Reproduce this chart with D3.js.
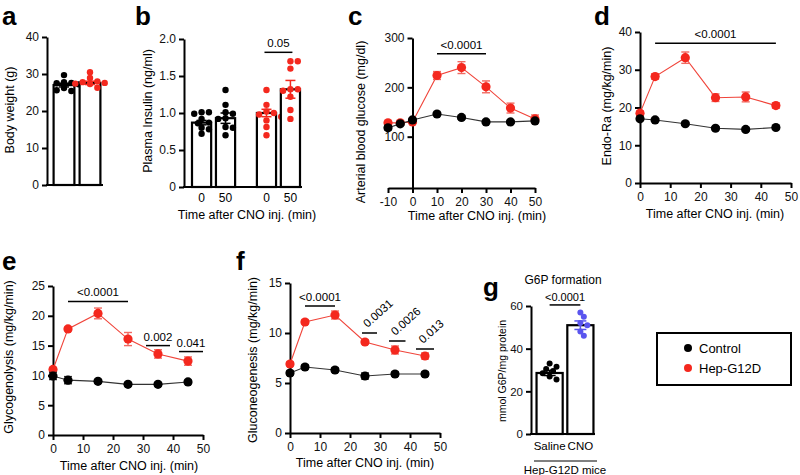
<!DOCTYPE html>
<html><head><meta charset="utf-8">
<script src="https://cdn.jsdelivr.net/npm/d3@7"></script>
<style>body{margin:0;background:#fff} svg text{font-family:"Liberation Sans",Arial,Helvetica,sans-serif}</style>
</head><body><svg id="fig" width="800" height="475"></svg>
<script>
// ---------------- DATA ----------------
// a: body weight (g)
const bwControl = [29.7, 27.8, 27.6, 27.5, 27.2, 26.2, 25.4, 25.6];
const bwG12D = [30.5, 28.9, 28.0, 27.8, 27.6, 27.4, 27.3, 26.3];
const bwMeans = [27.0, 27.6];
const bwErr = [0.5, 0.45];
const bwTicks = [0, 10, 20, 30, 40];

// b: plasma insulin (ng/ml)
const insulinLabels = ["0", "50", "0", "50"];
const insulinMeans = [0.87, 0.93, 1.0, 1.32];
const insulinErr = [0.03, 0.07, 0.05, 0.12];
const insulinPoints = [
  [1.01, 1.01, 0.99, 0.92, 0.87, 0.86, 0.8, 0.78, 0.72],
  [1.31, 1.11, 1.01, 0.99, 0.93, 0.92, 0.81, 0.8, 0.7],
  [1.31, 1.11, 1.02, 1.0, 0.98, 0.95, 0.9, 0.81, 0.7],
  [1.7, 1.7, 1.6, 1.32, 1.32, 1.3, 1.22, 1.04, 0.92]
];
const insulinTicks = [0, 0.5, 1.0, 1.5, 2.0];

// c: arterial blood glucose (mg/dl)
const glucoseTimes = [-10, -5, 0, 10, 20, 30, 40, 50];
const glucoseControl = [118, 126, 134, 146, 139, 130, 130, 132];
const glucoseControlErr = [4, 3, 3, 3, 3, 3, 3, 3];
const glucoseG12D = [128, 128, 130, 224, 240, 201, 158, 136];
const glucoseG12DErr = [3, 3, 3, 8, 12, 12, 10, 8];
const glucoseXTicks = [-10, 0, 10, 20, 30, 40, 50];
const glucoseYTicks = [100, 200, 300];

// d, e, f: time course
const rateTimes = [0, 5, 15, 25, 35, 45];
const endoRaControl = [17.0, 16.7, 15.7, 14.5, 14.2, 14.7];
const endoRaControlErr = [0.4, 0.4, 0.4, 0.4, 0.4, 0.4];
const endoRaG12D = [18.5, 28.2, 33.2, 22.6, 22.8, 20.5];
const endoRaG12DErr = [0.6, 0.7, 1.5, 1.0, 1.3, 0.7];
const endoRaTicks = [0, 10, 20, 30, 40];

const glycoControl = [9.9, 9.2, 9.0, 8.5, 8.5, 8.9];
const glycoControlErr = [0.6, 0.6, 0.3, 0.3, 0.3, 0.3];
const glycoG12D = [11.0, 17.8, 20.4, 16.1, 13.6, 12.4];
const glycoG12DErr = [0.3, 0.3, 0.9, 1.1, 0.7, 0.7];
const glycoTicks = [0, 5, 10, 15, 20, 25];

const gluconeoControl = [6.0, 6.6, 6.3, 5.7, 5.9, 5.9];
const gluconeoControlErr = [0.2, 0.2, 0.2, 0.3, 0.2, 0.2];
const gluconeoG12D = [6.9, 11.1, 11.8, 9.1, 8.3, 7.7];
const gluconeoG12DErr = [0.2, 0.2, 0.4, 0.2, 0.4, 0.3];
const gluconeoTicks = [0, 5, 10, 15];

const timeTicks = [0, 10, 20, 30, 40, 50];

// g: G6P formation
const g6pLabels = ["Saline", "CNO"];
const g6pMeans = [28.6, 51.0];
const g6pErr = [1.2, 2.0];
const g6pPoints = [
  [33, 31.5, 30.5, 29.5, 28.5, 27, 25.5],
  [57, 55, 52, 51, 48, 46]
];
const g6pTicks = [0, 20, 40, 60];

// significance annotations (data units)
const statsC = [{from: 10, to: 30, y: 268, label: "<0.0001"}];
const statsD = [{from: 5, to: 45, y: 37, label: "<0.0001"}];
const statsE = [{from: 5, to: 25, y: 22.4, label: "<0.0001"},
                {from: 31, to: 39, y: 15.0, label: "0.002"},
                {from: 42, to: 50, y: 14.0, label: "0.041"}];
const statsF = [{from: 5, to: 15, y: 12.7, label: "<0.0001"},
                {from: 24, to: 29, y: 10.0, label: "0.0031", rot: true},
                {from: 33, to: 38.5, y: 9.2, label: "0.0026", rot: true},
                {from: 42, to: 48, y: 8.4, label: "0.013", rot: true}];

const legendLabels = ["Control", "Hep-G12D"];

// ---------------- STYLE ----------------
const RED = "#f4281e", REDLINE = "#f0443a", REDERR = "#f26a62", BLACK = "#000", BLUE = "#5a55ee";
const svg = d3.select("#fig");
const FONT = "Liberation Sans, Arial, sans-serif";
const fmtNum = d => String(d); // plain hyphen for negatives

function styleAxis(g, fs) {
  g.attr("font-family", FONT).attr("font-size", fs || 12);
  g.select(".domain").attr("stroke", "#000").attr("stroke-width", 2);
  g.selectAll(".tick line").attr("stroke", "#000").attr("stroke-width", 2);
  g.selectAll(".tick text").attr("fill", "#111");
}
function letter(t, x, y) {
  svg.append("text").attr("x", x).attr("y", y).text(t)
    .attr("font-size", 26).attr("font-weight", "bold");
}
function yTitle(t, x, cy, fs) {
  svg.append("text").attr("transform", `translate(${x},${cy}) rotate(-90)`)
    .attr("text-anchor", "middle").attr("font-size", fs || 12.5).text(t);
}
function xTitle(t, cx, y, fs) {
  svg.append("text").attr("x", cx).attr("y", y).attr("text-anchor", "middle")
    .attr("font-size", fs || 12.5).text(t);
}
function swarm(vals, y, cx, r) {
  const placed = [];
  return vals.map(v => {
    const py = y(v);
    const cand = [0];
    for (let i = 1; i < 8; i++) { cand.push(i * r * 1.15, -i * r * 1.15); }
    let px = cx;
    for (const dx of cand) {
      const xx = cx + dx;
      if (placed.every(p => (p[0] - xx) ** 2 + (p[1] - py) ** 2 >= (2 * r * 0.9) ** 2)) { px = xx; break; }
    }
    placed.push([px, py]);
    return [px, py];
  });
}
function bracket(x, y, s) {
  const yy = y(s.y);
  svg.append("line").attr("x1", x(s.from)).attr("x2", x(s.to)).attr("y1", yy).attr("y2", yy)
    .attr("stroke", "#000").attr("stroke-width", 1.5);
  if (s.rot) {
    const cx = (x(s.from) + x(s.to)) / 2;
    svg.append("text").attr("transform", `translate(${cx - 2},${yy - 5}) rotate(-42)`)
      .attr("font-size", 11.5).text(s.label);
  } else {
    svg.append("text").attr("x", (x(s.from) + x(s.to)) / 2).attr("y", yy - 5)
      .attr("text-anchor", "middle").attr("font-size", 11.5).text(s.label);
  }
}
function errBar(g, cx, y, m, e, color, cap, w) {
  g.append("line").attr("x1", cx).attr("x2", cx).attr("y1", y(m - e)).attr("y2", y(m + e))
    .attr("stroke", color).attr("stroke-width", w || 1.5);
  [m - e, m + e].forEach(v => g.append("line").attr("x1", cx - cap).attr("x2", cx + cap)
    .attr("y1", y(v)).attr("y2", y(v)).attr("stroke", color).attr("stroke-width", w || 1.5));
}
function series(x, y, times, vals, errs, dot, lineC, errC) {
  const g = svg.append("g");
  g.append("path").datum(times.map((t, i) => [t, vals[i]]))
    .attr("d", d3.line().x(d => x(d[0])).y(d => y(d[1])))
    .attr("fill", "none").attr("stroke", lineC).attr("stroke-width", 1.1);
  times.forEach((t, i) => errBar(g, x(t), y, vals[i], errs[i], errC, 4, 1.4));
  g.selectAll("circle").data(times).join("circle")
    .attr("cx", t => x(t)).attr("cy", (t, i) => y(vals[i])).attr("r", 4.6).attr("fill", dot);
}
function linePanel(o) {
  const x = d3.scaleLinear().domain(o.xDom).range(o.xRange);
  const y = d3.scaleLinear().domain(o.yDom).range(o.yRange);
  const gx = svg.append("g").attr("transform", `translate(0,${o.yRange[0]})`)
    .call(d3.axisBottom(x).tickValues(o.xTicks).tickSize(5).tickSizeOuter(0).tickPadding(4).tickFormat(fmtNum));
  styleAxis(gx);
  const gy = svg.append("g").attr("transform", `translate(${x(o.yAxisAt)},0)`)
    .call(d3.axisLeft(y).tickValues(o.yTicks).tickSize(5).tickSizeOuter(0).tickPadding(3).tickFormat(fmtNum));
  styleAxis(gy);
  series(x, y, o.times, o.g12d, o.g12dErr, RED, REDLINE, REDERR);
  series(x, y, o.times, o.ctrl, o.ctrlErr, BLACK, "#333", "#333");
  o.stats.forEach(s => bracket(x, y, s));
  return {x, y};
}

// ---------------- PANEL a ----------------
(function () {
  const y = d3.scaleLinear().domain([0, 40]).range([185, 37]);
  const x = d3.scaleBand().domain(legendLabels).range([51, 103]).paddingInner(0.2).paddingOuter(0.1);
  const gy = svg.append("g").attr("transform", "translate(47,0)")
    .call(d3.axisLeft(y).tickValues(bwTicks).tickSize(5).tickSizeOuter(0).tickPadding(3));
  styleAxis(gy);
  svg.append("line").attr("x1", 46).attr("x2", 103).attr("y1", 185).attr("y2", 185).attr("stroke", "#000").attr("stroke-width", 2);
  const pts = [bwControl, bwG12D];
  legendLabels.forEach((k, i) => {
    svg.append("rect").attr("x", x(k)).attr("y", y(bwMeans[i])).attr("width", x.bandwidth())
      .attr("height", y(0) - y(bwMeans[i])).attr("fill", "#fff").attr("stroke", "#000").attr("stroke-width", 2.2);
    const c = i ? RED : BLACK;
    swarm(pts[i], y, x(k) + x.bandwidth() / 2, 3.2).forEach(p =>
      svg.append("circle").attr("cx", p[0]).attr("cy", p[1]).attr("r", 3.2).attr("fill", c));
    errBar(svg, x(k) + x.bandwidth() / 2, y, bwMeans[i], bwErr[i], c, 5, 1.5);
  });
  letter("a", 2, 25);
  yTitle("Body weight (g)", 14, 110);
})();

// ---------------- PANEL b ----------------
(function () {
  const y = d3.scaleLinear().domain([0, 2]).range([187, 39]);
  const x = d3.scaleBand().domain(d3.range(4)).range([192, 283]).paddingInner(0.2).paddingOuter(0);
  const groupGap = i => (i >= 2 ? 17 : 0);
  const gy = svg.append("g").attr("transform", "translate(184,0)")
    .call(d3.axisLeft(y).tickValues(insulinTicks).tickSize(5).tickSizeOuter(0).tickPadding(3)
      .tickFormat(d => d === 0 ? "0" : d3.format(".1f")(d)));
  styleAxis(gy);
  svg.append("line").attr("x1", 183).attr("x2", 302).attr("y1", 187).attr("y2", 187).attr("stroke", "#000").attr("stroke-width", 2);
  d3.range(4).forEach(i => {
    const bx = x(i) + groupGap(i);
    const cx = bx + x.bandwidth() / 2;
    svg.append("rect").attr("x", bx).attr("y", y(insulinMeans[i])).attr("width", x.bandwidth())
      .attr("height", y(0) - y(insulinMeans[i])).attr("fill", "#fff").attr("stroke", "#000").attr("stroke-width", 2.2);
    const c = i >= 2 ? RED : BLACK;
    swarm(insulinPoints[i], y, cx, 3.2).forEach(p =>
      svg.append("circle").attr("cx", p[0]).attr("cy", p[1]).attr("r", 3.2).attr("fill", c));
    errBar(svg, cx, y, insulinMeans[i], insulinErr[i], c, 5, 1.5);
    svg.append("text").attr("x", cx).attr("y", 202).attr("text-anchor", "middle").attr("font-size", 12).text(insulinLabels[i]);
  });
  const bx2 = x(2) + groupGap(2) + x.bandwidth() / 2, bx3 = x(3) + groupGap(3) + x.bandwidth() / 2;
  svg.append("line").attr("x1", bx2 - 2).attr("x2", bx3 + 2).attr("y1", y(1.82)).attr("y2", y(1.82)).attr("stroke", "#000").attr("stroke-width", 1.5);
  svg.append("text").attr("x", (bx2 + bx3) / 2).attr("y", y(1.82) - 5).attr("text-anchor", "middle").attr("font-size", 11.5).text("0.05");
  letter("b", 135, 25);
  yTitle("Plasma Insulin (ng/ml)", 152, 111);
  xTitle("Time after CNO inj. (min)", 247, 219);
})();

// ---------------- PANEL c ----------------
linePanel({xDom: [-10, 50], xRange: [388, 535], yDom: [-4, 300], yRange: [188, 38],
  xTicks: glucoseXTicks, yTicks: glucoseYTicks, yAxisAt: 0,
  times: glucoseTimes, ctrl: glucoseControl, ctrlErr: glucoseControlErr,
  g12d: glucoseG12D, g12dErr: glucoseG12DErr, stats: statsC});
letter("c", 348, 25);
yTitle("Arterial blood glucose (mg/dl)", 365, 122);
xTitle("Time after CNO inj. (min)", 477, 220);

// ---------------- PANEL d ----------------
linePanel({xDom: [0, 50], xRange: [640, 791], yDom: [0, 40], yRange: [183, 32],
  xTicks: timeTicks, yTicks: endoRaTicks, yAxisAt: 0,
  times: rateTimes, ctrl: endoRaControl, ctrlErr: endoRaControlErr,
  g12d: endoRaG12D, g12dErr: endoRaG12DErr, stats: statsD});
letter("d", 594, 25);
yTitle("Endo-Ra (mg/kg/min)", 611, 106);
xTitle("Time after CNO inj. (min)", 715, 218);

// ---------------- PANEL e ----------------
linePanel({xDom: [0, 50], xRange: [53, 203], yDom: [0, 25], yRange: [435, 286],
  xTicks: timeTicks, yTicks: glycoTicks, yAxisAt: 0,
  times: rateTimes, ctrl: glycoControl, ctrlErr: glycoControlErr,
  g12d: glycoG12D, g12dErr: glycoG12DErr, stats: statsE});
letter("e", 2, 270);
yTitle("Glycogenolysis (mg/kg/min)", 13, 357);
xTitle("Time after CNO inj. (min)", 129, 470);

// ---------------- PANEL f ----------------
linePanel({xDom: [0, 50], xRange: [290, 440], yDom: [0, 15], yRange: [433, 283],
  xTicks: timeTicks, yTicks: gluconeoTicks, yAxisAt: 0,
  times: rateTimes, ctrl: gluconeoControl, ctrlErr: gluconeoControlErr,
  g12d: gluconeoG12D, g12dErr: gluconeoG12DErr, stats: statsF});
letter("f", 236, 270);
yTitle("Gluconeogenesis (mg/kg/min)", 257, 360);
xTitle("Time after CNO inj. (min)", 365, 467);

// ---------------- PANEL g ----------------
(function () {
  const y = d3.scaleLinear().domain([0, 60]).range([434, 306]);
  const x = d3.scaleBand().domain(g6pLabels).range([535, 595]).paddingInner(0.15).paddingOuter(0.05);
  const gy = svg.append("g").attr("transform", "translate(531,0)")
    .call(d3.axisLeft(y).tickValues(g6pTicks).tickSize(5).tickSizeOuter(0).tickPadding(3));
  styleAxis(gy, 11.5);
  svg.append("line").attr("x1", 530).attr("x2", 595).attr("y1", 434).attr("y2", 434).attr("stroke", "#000").attr("stroke-width", 2);
  g6pLabels.forEach((k, i) => {
    const cx = x(k) + x.bandwidth() / 2;
    svg.append("rect").attr("x", x(k)).attr("y", y(g6pMeans[i])).attr("width", x.bandwidth())
      .attr("height", y(0) - y(g6pMeans[i])).attr("fill", "#fff").attr("stroke", "#000").attr("stroke-width", 2.2);
    const c = i ? BLUE : BLACK;
    swarm(g6pPoints[i], y, cx, 3).forEach(p =>
      svg.append("circle").attr("cx", p[0]).attr("cy", p[1]).attr("r", 3).attr("fill", c));
    errBar(svg, cx, y, g6pMeans[i], g6pErr[i], c, 6, 1.5);
    svg.append("text").attr("x", cx).attr("y", 450).attr("text-anchor", "middle").attr("font-size", 11.5).text(k);
  });
  const c0 = x("Saline") + x.bandwidth() / 2, c1 = x("CNO") + x.bandwidth() / 2;
  svg.append("line").attr("x1", c0).attr("x2", c1).attr("y1", y(60.5)).attr("y2", y(60.5)).attr("stroke", "#000").attr("stroke-width", 1.5);
  svg.append("text").attr("x", (c0 + c1) / 2).attr("y", y(60.5) - 4).attr("text-anchor", "middle").attr("font-size", 11).text("<0.0001");
  svg.append("line").attr("x1", 534).attr("x2", 597).attr("y1", 461).attr("y2", 461).attr("stroke", "#000").attr("stroke-width", 1);
  svg.append("text").attr("x", 565).attr("y", 474).attr("text-anchor", "middle").attr("font-size", 11.5).text("Hep-G12D mice");
  svg.append("text").attr("x", 563).attr("y", 284).attr("text-anchor", "middle").attr("font-size", 12).text("G6P formation");
  letter("g", 483, 296);
  yTitle("mmol G6P/mg protein", 506, 371, 10.5);
})();

// ---------------- LEGEND ----------------
(function () {
  svg.append("rect").attr("x", 657).attr("y", 333).attr("width", 134).attr("height", 52)
    .attr("fill", "#fff").attr("stroke", "#000").attr("stroke-width", 2);
  legendLabels.forEach((k, i) => {
    const cy = 348 + i * 20;
    svg.append("circle").attr("cx", 688).attr("cy", cy).attr("r", 4).attr("fill", i ? RED : BLACK);
    svg.append("text").attr("x", 699).attr("y", cy + 4.5).attr("font-size", 13).text(k);
  });
})();
</script></body></html>
